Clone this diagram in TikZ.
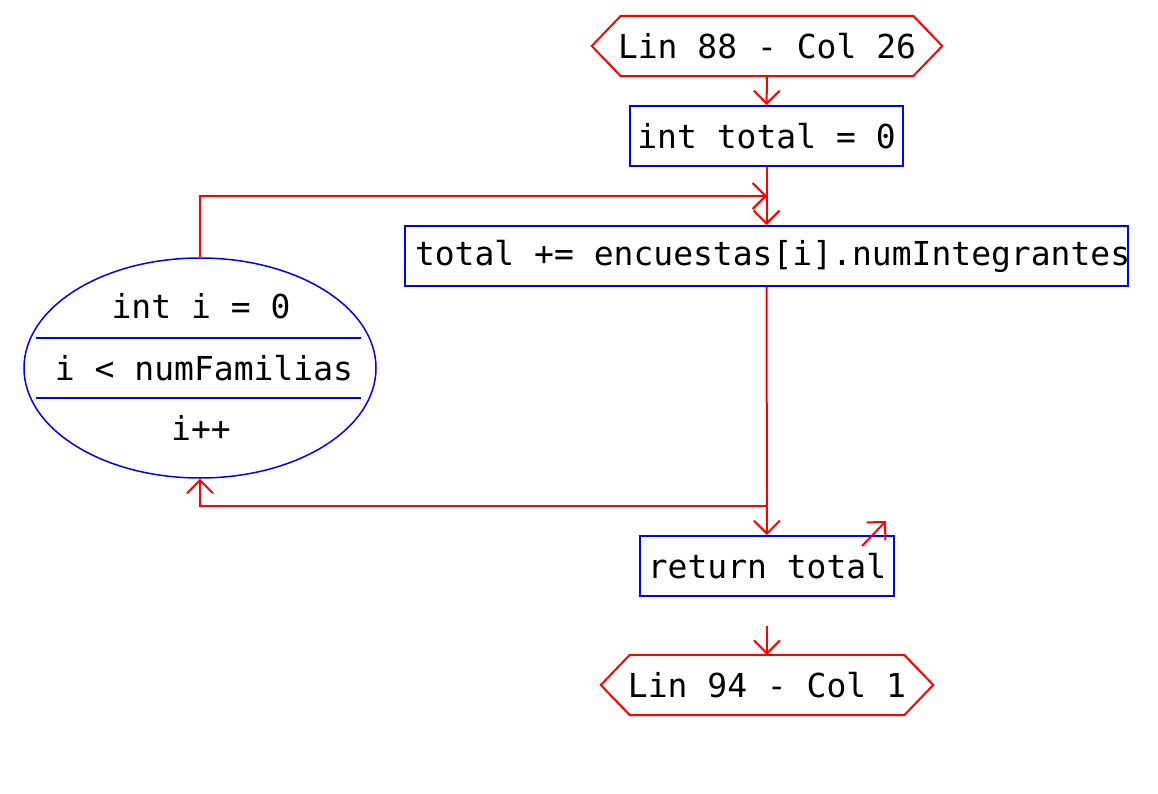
\documentclass[tikz,border=0pt]{standalone}
\usepackage{fontspec}
\newfontfamily\codefont{DejaVu Sans Mono}
\usetikzlibrary{arrows.meta, positioning, shapes.geometric}
\definecolor{flow}{RGB}{255,0,0}
\definecolor{frame}{RGB}{0,0,255}

% hexagon outline round a terminal node
\newcommand{\hexframe}[1]{%
  \draw[flow, line width=2pt, line join=miter] (#1.west) -- ([xshift=29pt]#1.north west) -- ([xshift=-29pt]#1.north east)
    -- (#1.east) -- ([xshift=-29pt]#1.south east) -- ([xshift=29pt]#1.south west) -- cycle;}

\begin{document}
\begin{tikzpicture}[x=1pt, y=-1pt,
    font=\codefont\fontsize{33}{40}\selectfont,
    stmt/.style={draw=frame, line width=2pt, rectangle, minimum height=60pt, inner sep=0pt},
    term/.style={rectangle, minimum height=60pt, inner sep=0pt},
    link/.style={flow, line width=2pt, -{Straight Barb[length=13pt, width=26pt, line width=2pt]}}]
    \useasboundingbox (0,0) rectangle (1158,794);
    % main column
    \node[term, minimum width=350pt] (start) at (767,46) {Lin 88 - Col 26};
    \hexframe{start}
    \node[stmt, minimum width=273pt] (init) at (766.5,136) {int total = 0};
    \node[stmt, minimum width=723pt] (body) at (766.5,256) {\makebox[703pt][l]{total += encuestas[i].numIntegrantes}};
    \node[stmt, minimum width=254pt] (ret) at (767,566) {return total};
    \node[term, minimum width=332pt] (finish) at (767,685) {Lin 94 - Col 1};
    \hexframe{finish}
    % for loop header
    \node[draw=frame, line width=1.5pt, ellipse, minimum width=352pt, minimum height=220pt] (loop) at (200,368) {};
    \node (forinit) at (201,306) {int i = 0};
    \node (forcond) at (204,368) {i < numFamilias};
    \node (forincr) at (201,428) {i++};
    \draw[frame, line width=1.5pt] (36,338) -- (361,338);
    \draw[frame, line width=1.5pt] (36,398) -- (361,398);
    % connectors
    \coordinate (join) at (767,196);
    \coordinate (back) at (767,506);
    \coordinate (gap) at (767,626);
    \coordinate (stray tail) at (862,546);
    \coordinate (stray head) at (886,521);
    \draw[link] (start) -- (init);
    \draw[link] (init) -- (body);
    \draw[link] (loop.north) |- (join);
    \draw[link] (body) -- (ret);
    \draw[link] (back) -| (loop.south);
    \draw[link] (stray tail) -- (stray head);
    \draw[link] (gap) -- (finish);
\end{tikzpicture}
\end{document}
